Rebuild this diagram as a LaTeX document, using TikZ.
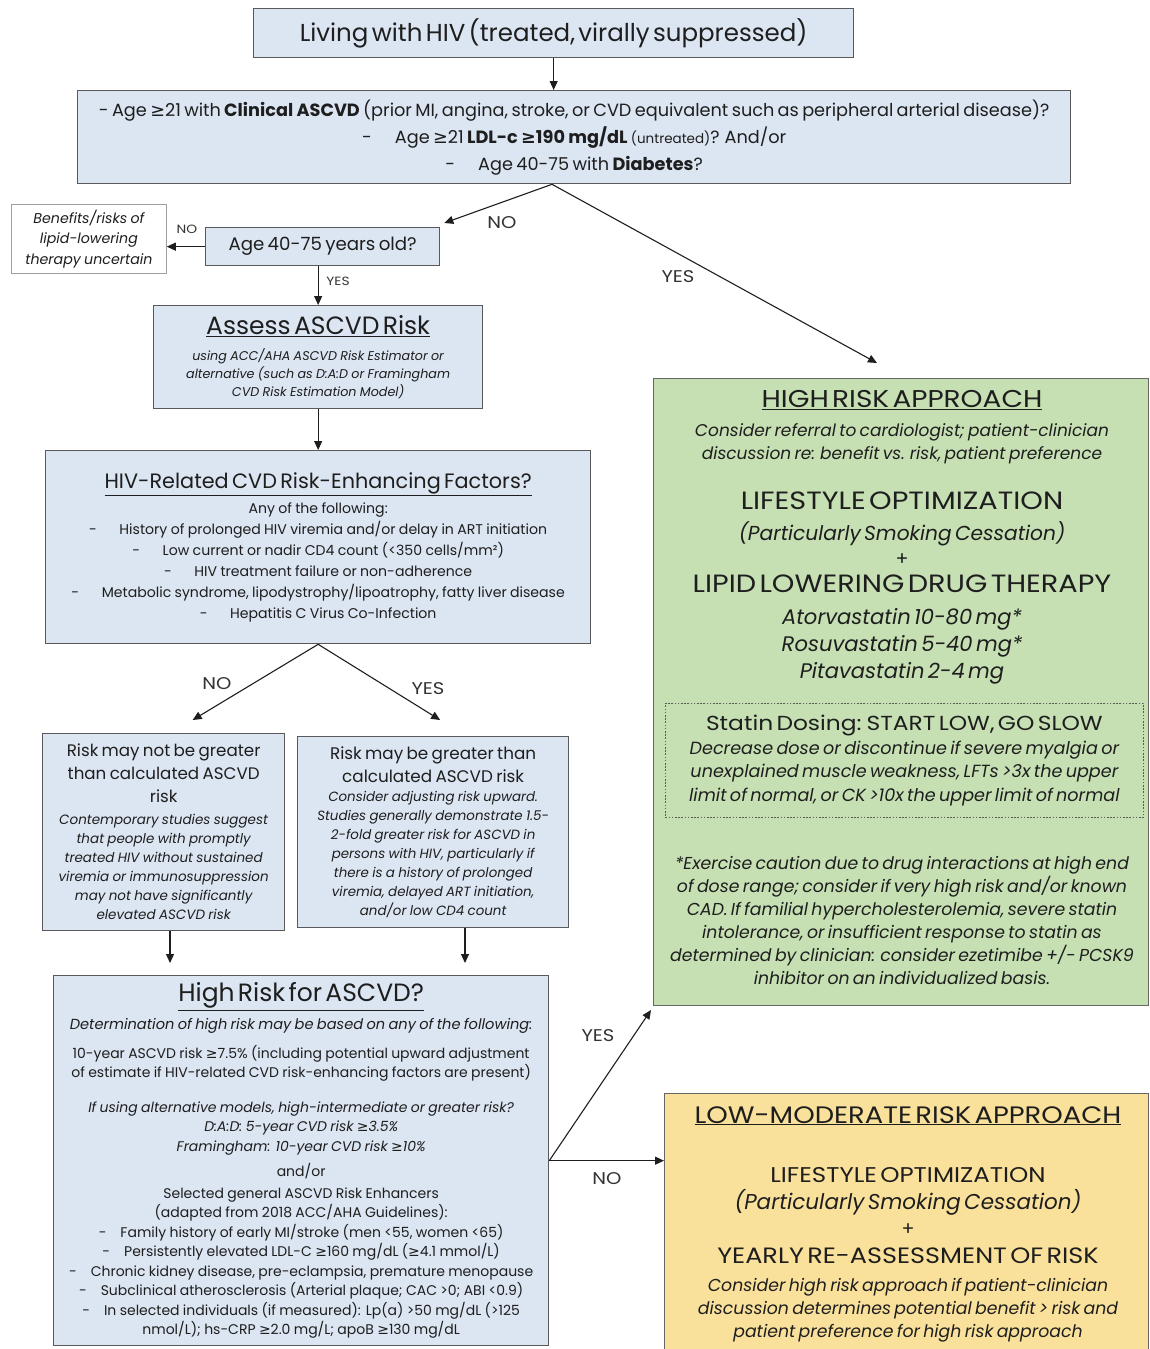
\documentclass[tikz,border=0pt]{standalone}
\usepackage{fontspec}
\setmainfont{Poppins}
\newfontfamily\widefont{Poppins}[FakeStretch=1.15]
\newfontfamily\symfont{DejaVu Sans}
\newcommand\gtq{{\symfont ≥}}
\newcommand\fs[2]{\fontsize{#1}{#2}\selectfont}
\setlength{\parindent}{0pt}
\usetikzlibrary{arrows.meta,calc}
\definecolor{boxblue}{HTML}{DCE6F2}
\definecolor{boxgreen}{HTML}{C6E0B4}
\definecolor{boxyellow}{HTML}{FAE19B}
\definecolor{edge}{HTML}{595959}
\definecolor{ink}{HTML}{1E1E1E}
\definecolor{lblc}{HTML}{333333}
\tikzset{
  box/.style={draw=edge, line width=1.3pt, anchor=north west, inner sep=0pt, align=center, text=ink},
  bluebox/.style={box, fill=boxblue},
  greenbox/.style={box, fill=boxgreen, draw=gray!80!black, line width=1pt},
  yellowbox/.style={box, fill=boxyellow, draw=gray!80!black, line width=1pt},
  notebox/.style={box, fill=white, draw=gray!75, line width=0.8pt},
  dashbox/.style={box, draw=gray!70!black, line width=0.8pt, dash pattern=on 1.6pt off 1.6pt},
  txt/.style={inner sep=0pt, align=center, text=ink},
  arr/.style={-{Triangle[length=9pt,width=8pt]}, line width=1.1pt, draw=ink},
  lbl/.style={inner sep=0pt, text=lblc, font=\widefont\fs{17}{19}},
  slbl/.style={inner sep=0pt, text=lblc, font=\widefont\fs{12}{14}},
}
\begin{document}
\begin{tikzpicture}[x=1pt,y=-1pt]
\useasboundingbox (0,0) rectangle (1149,1349);

% boxes
\node[bluebox, minimum width=600pt, minimum height=49pt, text width=596pt] (top) at (253,8)
  {\fs{24.5}{26}Living with HIV (treated, virally suppressed)\par};

\node[bluebox, minimum width=993pt, minimum height=93pt, text width=990pt] (q1) at (77,90)
  {\fs{17.7}{27}- Age \gtq21 with \textbf{Clinical ASCVD} (prior MI, angina, stroke, or CVD equivalent such as peripheral arterial disease)?\\
   -\hspace{1.3em}Age \gtq21 \textbf{LDL-c \gtq190 mg/dL} {\fs{13.5}{27}(untreated)}? And/or\\
   -\hspace{1.3em}Age 40-75 with \textbf{Diabetes}?\par};

\node[notebox, minimum width=155pt, minimum height=69pt, text width=153pt] (ben) at (11,204)
  {\fs{14.2}{20.5}\itshape Benefits/risks of\\ lipid-lowering\\ therapy uncertain\par};

\node[bluebox, minimum width=234pt, minimum height=38pt, text width=230pt] (age) at (205,227)
  {\fs{18.2}{20}Age 40-75 years old?\par};

\node[bluebox, minimum width=329pt, minimum height=103pt, text width=325pt] (assess) at (153,305)
  {\fs{25}{27}\underline{Assess ASCVD Risk}\par\vskip 8pt
   \fs{12.7}{18}\itshape using ACC/AHA ASCVD Risk Estimator or\\ alternative (such as D:A:D or Framingham\\ CVD Risk Estimation Model)\par};

\node[bluebox, minimum width=545pt, minimum height=193pt, text width=541pt] (hivf) at (45,450)
  {\fs{20.8}{23}\underline{HIV-Related CVD Risk-Enhancing Factors?}\par\vskip 4pt
   \fs{14.1}{21}Any of the following:\\
   -\hspace{1.6em}History of prolonged HIV viremia and/or delay in ART initiation\\
   -\hspace{1.6em}Low current or nadir CD4 count (<350 cells/mm²)\\
   -\hspace{1.6em}HIV treatment failure or non-adherence\\
   -\hspace{1.6em}Metabolic syndrome, lipodystrophy/lipoatrophy, fatty liver disease\\
   -\hspace{1.6em}Hepatitis C Virus Co-Infection\par};

\node[bluebox, minimum width=242pt, minimum height=197pt, text width=238pt] (rnot) at (42,733)
  {\fs{16.7}{23}Risk may not be greater\\ than calculated ASCVD\\ risk\par\vskip 3pt
   \fs{13.5}{19}\itshape Contemporary studies suggest\\ that people with promptly\\ treated HIV without sustained\\ viremia or immunosuppression\\ may not have significantly\\ elevated ASCVD risk\par};

\node[bluebox, minimum width=271pt, minimum height=191pt, text width=268pt] (rmay) at (297,736)
  {\fs{16.8}{23}Risk may be greater than\\ calculated ASCVD risk\par
   \fs{13.4}{19}\itshape Consider adjusting risk upward.\\ Studies generally demonstrate 1.5-\\ 2-fold greater risk for ASCVD in\\ persons with HIV, particularly if\\ there is a history of prolonged\\ viremia, delayed ART initiation,\\ and/or low CD4 count\par};

\node[bluebox, minimum width=495pt, minimum height=370pt, text width=491pt] (hr) at (53,975)
  {\fs{25}{27}\underline{High Risk for ASCVD?}\par\vskip 7pt
   \fs{14.6}{19.5}\textit{Determination of high risk may be based on any of the following:}\par\vskip 9pt
   \fs{14}{19.5}10-year ASCVD risk \gtq7.5\% (including potential upward adjustment\\ of estimate if HIV-related CVD risk-enhancing factors are present)\par\vskip 15pt
   \itshape If using alternative models, high-intermediate or greater risk?\\ D:A:D: 5-year CVD risk \gtq3.5\%\\ Framingham: 10-year CVD risk \gtq10\%\par\vskip 6pt
   \upshape and/or\par\vskip 2pt
   Selected general ASCVD Risk Enhancers\\ (adapted from 2018 ACC/AHA Guidelines):\\
   -\hspace{1em}Family history of early MI/stroke (men <55, women <65)\\
   -\hspace{1em}Persistently elevated LDL-C \gtq160 mg/dL (\gtq4.1 mmol/L)\\
   -\hspace{1em}Chronic kidney disease, pre-eclampsia, premature menopause\\
   -\hspace{1em}Subclinical atherosclerosis (Arterial plaque; CAC >0; ABI <0.9)\\
   -\hspace{1em}In selected individuals (if measured): Lp(a) >50 mg/dL (>125\\ nmol/L); hs-CRP \gtq2.0 mg/L; apoB \gtq130 mg/dL\par};

\node[greenbox, minimum width=495pt, minimum height=627pt] (green) at (653,378) {};
\node[txt, text width=490pt, anchor=north] (hratext) at (902,390)
  {\widefont\fs{24.3}{26}\underline{HIGH RISK APPROACH}\par\vskip 6pt
   \normalfont\fs{17}{23}\itshape Consider referral to cardiologist; patient-clinician\\ discussion re: benefit vs. risk, patient preference\par\vskip 24pt
   \widefont\upshape\fs{25}{26}LIFESTYLE OPTIMIZATION\par
   \normalfont\fs{20.2}{31}\itshape (Particularly Smoking Cessation)\par
   \upshape\fs{19}{25}+\par
   \widefont\upshape\fs{25}{27}LIPID LOWERING DRUG THERAPY\par
   \normalfont\fs{21.1}{32}\itshape Atorvastatin 10-80 mg*\par
   \fs{21.1}{27}Rosuvastatin 5-40 mg*\\ Pitavastatin 2-4 mg\par};
\node[dashbox, minimum width=478pt, minimum height=114pt, text width=474pt] (dose) at (665,703)
  {\widefont\upshape\fs{20.3}{25}Statin Dosing: START LOW, GO SLOW\par
   \normalfont\fs{17.6}{23.5}\itshape Decrease dose or discontinue if severe myalgia or\\ unexplained muscle weakness, LFTs >3x the upper\\ limit of normal, or CK >10x the upper limit of normal\par};
\node[txt, text width=490pt, anchor=north] (foot) at (902,856)
  {\fs{17.3}{23}\itshape *Exercise caution due to drug interactions at high end\\ of dose range; consider if very high risk and/or known\\ CAD. If familial hypercholesterolemia, severe statin\\ intolerance, or insufficient response to statin as\\ determined by clinician: consider ezetimibe +/- PCSK9\\ inhibitor on an individualized basis.\par};

\node[yellowbox, minimum width=484pt, minimum height=257pt] (yellow) at (664,1093) {};
\node[txt, text width=480pt, anchor=north] (lmtext) at (908,1106)
  {\widefont\upshape\fs{23.8}{26}\underline{LOW-MODERATE RISK APPROACH}\par\vskip 33pt
   \fs{21.3}{26}LIFESTYLE OPTIMIZATION\par
   \normalfont\fs{21.5}{27}\itshape (Particularly Smoking Cessation)\par
   \upshape\fs{19}{26}+\par
   \widefont\upshape\fs{22.2}{28}YEARLY RE-ASSESSMENT OF RISK\par
   \normalfont\fs{17.3}{28}\itshape Consider high risk approach if patient-clinician\par
   \fs{17.3}{23}discussion determines potential benefit > risk and\\ patient preference for high risk approach\par};

% connectors
\coordinate (s1) at ($(q1.south west)+(475,0)$);
\coordinate (s2) at (hivf.south);
\draw[arr] (top.south) -- (top.south |- q1.north);
\draw[arr] (s1) -- ($(age.north east)+(4,-4)$);
\draw[arr] (s1) -- ($(green.north west)+(224,-15)$);
\draw[arr] (age.west) -- (age.west -| ben.east);
\draw[arr] (assess.north |- age.south) -- (assess.north);
\draw[arr] (assess.south) -- (hivf.north);
\draw[arr] (s2) -- ($(rnot.north)+(29,-13)$);
\draw[arr] (s2) -- ($(rmay.north)+(7,-16)$);
\coordinate (d1) at ($(rnot.south west)+(128,0)$);
\coordinate (d2) at ($(rmay.south west)+(168,0)$);
\draw[arr, shorten >=12pt] (d1) -- (d1 |- hr.north);
\draw[arr, shorten >=12pt] (d2) -- (d2 |- hr.north);
\draw[arr] (hr.east) -- ($(green.south west)+(-2,4)$);
\draw[arr] (hr.east) -- (hr.east -| yellow.west);

% labels
\node[lbl] (lno1) at (502,223) {NO};
\node[lbl] (lyes1) at (678,277) {YES};
\node[slbl] (lno0) at (187,229) {NO};
\node[slbl] (lyes0) at (338,281) {YES};
\node[lbl] (lno2) at (217,684) {NO};
\node[lbl] (lyes2) at (428,689) {YES};
\node[lbl] (lyes3) at (598,1036) {YES};
\node[lbl] (lno3) at (607,1179) {NO};
\end{tikzpicture}
\end{document}
